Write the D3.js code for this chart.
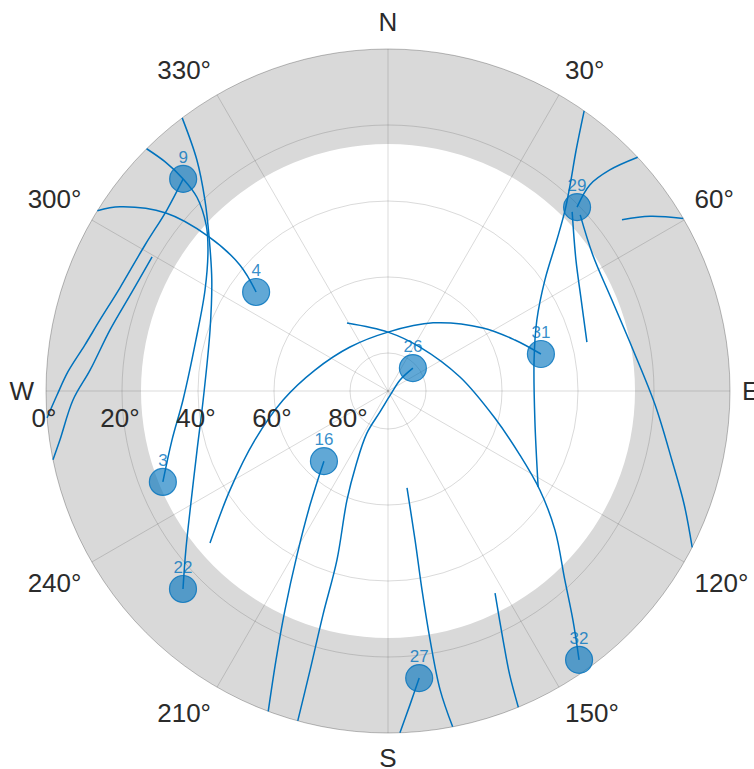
<!DOCTYPE html>
<html><head><meta charset="utf-8">
<script src="https://cdn.jsdelivr.net/npm/d3@7"></script>
<style>html,body{margin:0;padding:0;background:#fff;overflow:hidden;} svg{display:block;}</style>
</head><body>
<svg id="chart" width="754" height="769"></svg>
<script>
// ---- data (azimuth deg, elevation deg) ----
const satIds = [3, 4, 9, 16, 22, 26, 27, 29, 31, 32];
const satAz  = [248.0, 306.9, 316.0, 222.4, 226.0, 47.4, 173.8, 45.8, 76.4, 144.6];
const satEl  = [26.1, 46.6, 12.4, 65.0, 15.0, 81.1, 14.0, 20.6, 48.6, 3.2];
const maskElevation = 25;
const elevationTicks = [0, 20, 40, 60, 80];
const elevationLabels = ["0°", "20°", "40°", "60°", "80°"];
const azimuthTicks = [0, 30, 60, 90, 120, 150, 180, 210, 240, 270, 300, 330];
const azimuthLabels = ["N", "30°", "60°", "E", "120°", "150°", "S", "210°", "240°", "W", "300°", "330°"];

const track3  = [[315.1,0],[315.8,5.9],[316.0,12.4],[315.4,18.4],[312.4,25.2],[308.1,29.8],[298.9,35.0],[284.9,37.7],[267.5,36.0],[257.2,31.7],[248.0,26.1]];
const track22 = [[323.0,0],[320.4,11.1],[316.2,20.4],[310.7,27.9],[302.2,35.2],[288.9,40.5],[267.2,41.3],[252.8,37.4],[241.0,30.8],[231.8,22.3],[226.0,15.0]];
const track9  = [[265.5,0],[269.3,2.9],[273.4,5.6],[278.6,9.3],[283.8,11.9],[291.0,14.4],[301.0,15.4],[309.3,14.8],[316.0,12.4]];
const trackW  = [[299.6,18.6],[290.4,17.6],[282.4,15.1],[274.0,11.4],[268.4,7.1],[261.5,2.7],[258.4,0]];
const track4  = [[301.8,0],[304.5,4.4],[308.7,15.1],[310.7,27.5],[310.4,38.8],[306.9,46.6]];
const track16 = [[200.5,0],[202.6,13.3],[205.2,26.3],[209.0,40.6],[214.4,53.7],[222.4,65.0]];
const track26 = [[195.3,0],[195.6,13.8],[196.2,28.6],[196.8,43.5],[200.6,59.3],[203.4,68.8],[206.6,77.6],[200.9,84.1],[135,88.9],[47.5,85.7],[47.4,81.1]];
const track31 = [[229.5,28.4],[237.9,40.9],[249.8,52.7],[265.1,62.3],[286.0,70.0],[319.2,74.7],[0,74.5],[33.5,68.5],[56.4,60.0],[68.1,54.0],[76.4,48.6]];
const track32 = [[328.9,69.1],[0,74.5],[36.0,75.7],[79.0,70.7],[104.2,61.0],[115.9,51.4],[123.1,42.3],[129.8,32.8],[136.9,21.9],[141.1,12.5],[144.6,3.2]];
const trackNE = [[35.0,0],[38.0,9.6],[41.5,17.7],[44.4,23.4],[48.2,30.4],[54.7,39.4],[64.5,46.6],[78.0,50.7],[101.2,50.6],[122.6,43.1]];
const track29 = [[45.8,20.6],[44.4,14.1],[45.1,7.6],[46.9,0]];
const track60 = [[53.8,13.7],[56.3,7.1],[59.7,0]];
const trackE1 = [[45.8,22.4],[55.1,29.7],[64.8,33.8],[76.2,36.1]];
const trackE2 = [[47.5,21.4],[56.4,25.3],[67.9,26.4],[80.5,24.6],[93.0,19.6],[103.7,13.1],[111.0,6.5],[117.2,0]];
const track27 = [[178.0,0],[176.0,7.2],[173.8,14.0]];
const trackS1 = [[168.9,64.0],[169.7,50.2],[170.3,36.9],[170.4,23.6],[170.1,10.1],[169.1,0]];
const trackS2 = [[152.1,29.8],[155.2,17.8],[156.8,8.7],[157.6,0]];
const tracks = [track3, track22, track9, trackW, track4, track16, track26, track31, track32,
                trackNE, track29, track60, trackE1, trackE2, track27, trackS1, trackS2];

// ---- drawing ----
const cx = 388, cy = 391, R = 342;
const blue = "#0072BD";
const textColor = "#2b2b2b";
const svg = d3.select("#chart");
const g = svg.append("g").attr("transform", `translate(${cx},${cy})`);
const r = d3.scaleLinear().domain([90, 0]).range([0, R]);
const rad = d => d * Math.PI / 180;

// mask band
g.append("path")
  .attr("d", d3.arc()({innerRadius: r(maskElevation), outerRadius: r(0), startAngle: 0, endAngle: 2 * Math.PI}))
  .attr("fill", "#d9d9d9");

// grid circles
g.selectAll("circle.grid").data(elevationTicks).join("circle")
  .attr("class", "grid").attr("r", d => r(d))
  .attr("fill", "none").attr("stroke", "#262626")
  .attr("stroke-opacity", d => d === 0 ? 0.3 : 0.17).attr("stroke-width", 1);

// spokes
g.selectAll("line.spoke").data(azimuthTicks).join("line")
  .attr("class", "spoke")
  .attr("x1", 0).attr("y1", 0)
  .attr("x2", d => Math.sin(rad(d)) * r(0))
  .attr("y2", d => -Math.cos(rad(d)) * r(0))
  .attr("stroke", "#262626").attr("stroke-opacity", 0.17).attr("stroke-width", 1);

// azimuth labels: anchored at R+gap, aligned away from the circle
const fs = 26, gap = 12, halfH = 15;
const azText = svg.selectAll("text.az").data(azimuthTicks).join("text")
  .attr("class", "az")
  .attr("font-family", "'Liberation Sans', Arial, sans-serif")
  .attr("font-size", fs).attr("fill", textColor)
  .attr("text-anchor", "middle")
  .text((d, i) => azimuthLabels[i]);
azText.each(function(d) {
  const w = this.getComputedTextLength();
  const a = rad(d), s = Math.sin(a), c = Math.cos(a);
  const px = s * (R + gap), py = -c * (R + gap);
  const sx = Math.abs(s) < 0.01 ? 0 : Math.sign(s);
  const sy = Math.abs(c) < 0.01 ? 0 : -Math.sign(c);
  let x = cx + px + sx * w / 2;
  let y = cy + py + sy * halfH;
  if (d === 180) y -= 2;
  d3.select(this).attr("x", x).attr("y", y + 0.36 * fs);
});

// elevation labels
svg.selectAll("text.el").data(elevationTicks).join("text")
  .attr("class", "el")
  .attr("font-family", "'Liberation Sans', Arial, sans-serif")
  .attr("font-size", fs).attr("fill", textColor)
  .attr("text-anchor", "middle")
  .attr("x", d => cx - r(d) - 2)
  .attr("y", cy + 36)
  .text((d, i) => elevationLabels[i]);

// tracks
const line = d3.lineRadial()
  .angle(d => rad(d[0]))
  .radius(d => r(d[1]))
  .curve(d3.curveCatmullRom.alpha(0.5));
g.selectAll("path.track").data(tracks).join("path")
  .attr("class", "track")
  .attr("d", line)
  .attr("fill", "none").attr("stroke", blue).attr("stroke-width", 1.5);

// satellites
const sats = satIds.map((id, i) => ({id, az: satAz[i], el: satEl[i]}));
const sxp = d => Math.sin(rad(d.az)) * r(d.el);
const syp = d => -Math.cos(rad(d.az)) * r(d.el);
g.selectAll("circle.sat").data(sats).join("circle")
  .attr("class", "sat")
  .attr("cx", sxp).attr("cy", syp).attr("r", 13.5)
  .attr("fill", blue).attr("fill-opacity", 0.62)
  .attr("stroke", blue).attr("stroke-opacity", 0.8).attr("stroke-width", 1.2);
g.selectAll("text.sat").data(sats).join("text")
  .attr("class", "sat")
  .attr("x", sxp).attr("y", d => syp(d) - 16)
  .attr("text-anchor", "middle")
  .attr("font-family", "'Liberation Sans', Arial, sans-serif")
  .attr("font-size", 17).attr("fill", blue).attr("fill-opacity", 0.8)
  .text(d => d.id);
</script>
</body></html>
